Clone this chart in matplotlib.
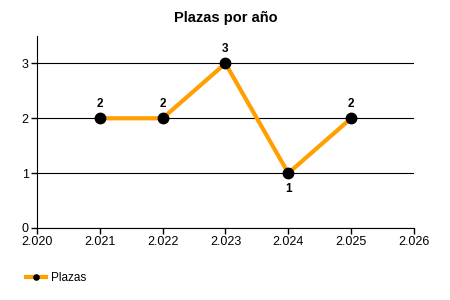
import matplotlib
matplotlib.use("Agg")
import matplotlib.pyplot as plt

years = [2021, 2022, 2023, 2024, 2025]
plazas = [2, 2, 3, 1, 2]
x_ticks = [2020, 2021, 2022, 2023, 2024, 2025, 2026]
x_labels = ["2.020", "2.021", "2.022", "2.023", "2.024", "2.025", "2.026"]

plt.rcParams['font.family'] = ['Liberation Sans', 'DejaVu Sans']

fig = plt.figure(figsize=(4.5, 3), dpi=100)
ax = fig.add_axes([0.082, 0.24, 0.838, 0.64])

ax.plot(years, plazas, color='#FFA000', linewidth=3, marker='o',
        markersize=7.5, markerfacecolor='black', markeredgecolor='black',
        label='Plazas', zorder=3)

# value labels, the lowest one goes below its point
for x, y in zip(years, plazas):
    if y == min(plazas):
        ax.annotate(str(y), (x, y), xytext=(0, -7), textcoords='offset points',
                    ha='center', va='top', fontsize=8.5, fontweight='bold')
    else:
        ax.annotate(str(y), (x, y), xytext=(0, 6), textcoords='offset points',
                    ha='center', va='bottom', fontsize=8.5, fontweight='bold')

ax.set_xlim(2020, 2026)
ax.set_ylim(0, 3.5)
ax.set_xticks(x_ticks)
ax.set_xticklabels(x_labels)
ax.set_yticks([0, 1, 2, 3])
ax.tick_params(labelsize=9, length=4, width=1, color='black', pad=2)
ax.yaxis.grid(True, color='black', linewidth=0.8)
ax.set_axisbelow(True)
for side in ['top', 'right']:
    ax.spines[side].set_visible(False)

ax.set_title('Plazas por año', fontsize=10.5, fontweight='bold', pad=10)

fig.legend(loc='center left', bbox_to_anchor=(0.035, 0.073), frameon=False,
           fontsize=8.5, handlelength=1.7, handletextpad=0.4, markerscale=0.5)

fig.savefig('out.png', dpi=100)
